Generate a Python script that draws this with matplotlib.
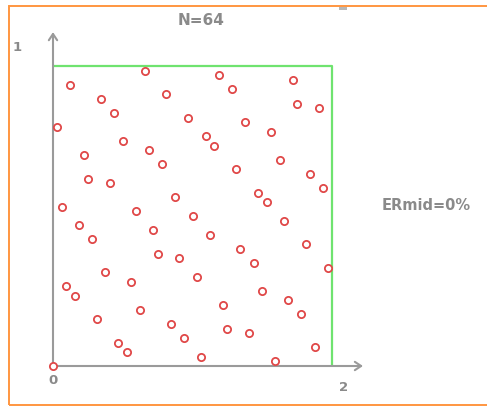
import matplotlib
matplotlib.use("Agg")
import matplotlib.pyplot as plt
from matplotlib.patches import Rectangle

## sample points, x in [0, 2], y in [0, 1]
x_pts = [0.656, 0.125, 1.188, 1.719, 0.344, 0.812, 1.281, 1.750, 1.906, 0.438,
         0.969, 1.375, 0.031, 1.562, 1.094, 1.156, 0.500, 0.219, 0.688, 1.625,
         0.781, 1.312, 1.844, 0.250, 0.406, 1.938, 1.469, 1.531, 0.875, 0.062,
         0.594, 1.000, 1.656, 0.188, 0.719, 1.125, 0.281, 1.812, 1.344, 0.750,
         0.906, 1.438, 1.969, 0.375, 1.031, 0.562, 0.094, 0.156, 1.500, 1.688,
         1.219, 0.625, 1.781, 0.312, 0.844, 1.250, 1.406, 0.938, 0.469, 0.531,
         1.875, 1.062, 1.594, 0.000]
y_pts = [0.984, 0.938, 0.969, 0.953, 0.891, 0.906, 0.922, 0.875, 0.859, 0.844,
         0.828, 0.812, 0.797, 0.781, 0.766, 0.734, 0.750, 0.703, 0.719, 0.688,
         0.672, 0.656, 0.641, 0.625, 0.609, 0.594, 0.578, 0.547, 0.562, 0.531,
         0.516, 0.500, 0.484, 0.469, 0.453, 0.438, 0.422, 0.406, 0.391, 0.375,
         0.359, 0.344, 0.328, 0.312, 0.297, 0.281, 0.266, 0.234, 0.250, 0.219,
         0.203, 0.188, 0.172, 0.156, 0.141, 0.125, 0.109, 0.094, 0.078, 0.047,
         0.062, 0.031, 0.016, 0.000]
n_label = "N=64"
er_label = "ERmid=0%"

gray = "#9a9a9a"
txt = "#8a8a8a"

fig = plt.figure(figsize=(4.87, 4.07), dpi=100)
ax = fig.add_axes([0, 0, 1, 1])
ax.set_xlim(-53 / 139.5, 434 / 139.5)
ax.set_ylim(-41 / 300, 366 / 300)
ax.axis("off")

# orange frame, runs off the right edge
fig.patches.append(Rectangle((9 / 487, 2 / 407), 1.0, 399 / 407,
                             transform=fig.transFigure, fill=False,
                             edgecolor="#ff9640", linewidth=1.4))
fig.patches.append(Rectangle((339 / 487, 397 / 407), 8 / 487, 3 / 407,
                             transform=fig.transFigure, facecolor="#b8b8b8",
                             edgecolor="none"))

# axes with open arrow heads
arrow = dict(arrowstyle="->,head_length=0.45,head_width=0.3", color=gray, lw=1.5,
             shrinkA=0, shrinkB=0)
ax.annotate("", xy=(0, 1.113), xytext=(0, 0), arrowprops=arrow)
ax.annotate("", xy=(2.222, 0), xytext=(0, 0), arrowprops=arrow)

# green boundary box
ax.plot([0, 2, 2], [1, 1, 0], color="#6fe36f", lw=1.6, solid_capstyle="butt")

ax.plot(x_pts, y_pts, "o", ls="none", mfc="white", mec="#e04848",
        ms=5.2, mew=1.3, zorder=5)

ax.text(1.06, 1.153, n_label, ha="center", va="center", color=txt,
        fontsize=11, fontweight="bold")
ax.text(2.675, 0.536, er_label, ha="center", va="center", color=txt,
        fontsize=10.5, fontweight="bold")
ax.text(-0.256, 1.063, "1", ha="center", va="center", color=txt,
        fontsize=9.5, fontweight="bold")
ax.text(0.0, -0.047, "0", ha="center", va="center", color=txt,
        fontsize=9.5, fontweight="bold")
ax.text(2.08, -0.073, "2", ha="center", va="center", color=txt,
        fontsize=9.5, fontweight="bold")

fig.savefig("out.png", dpi=100)
